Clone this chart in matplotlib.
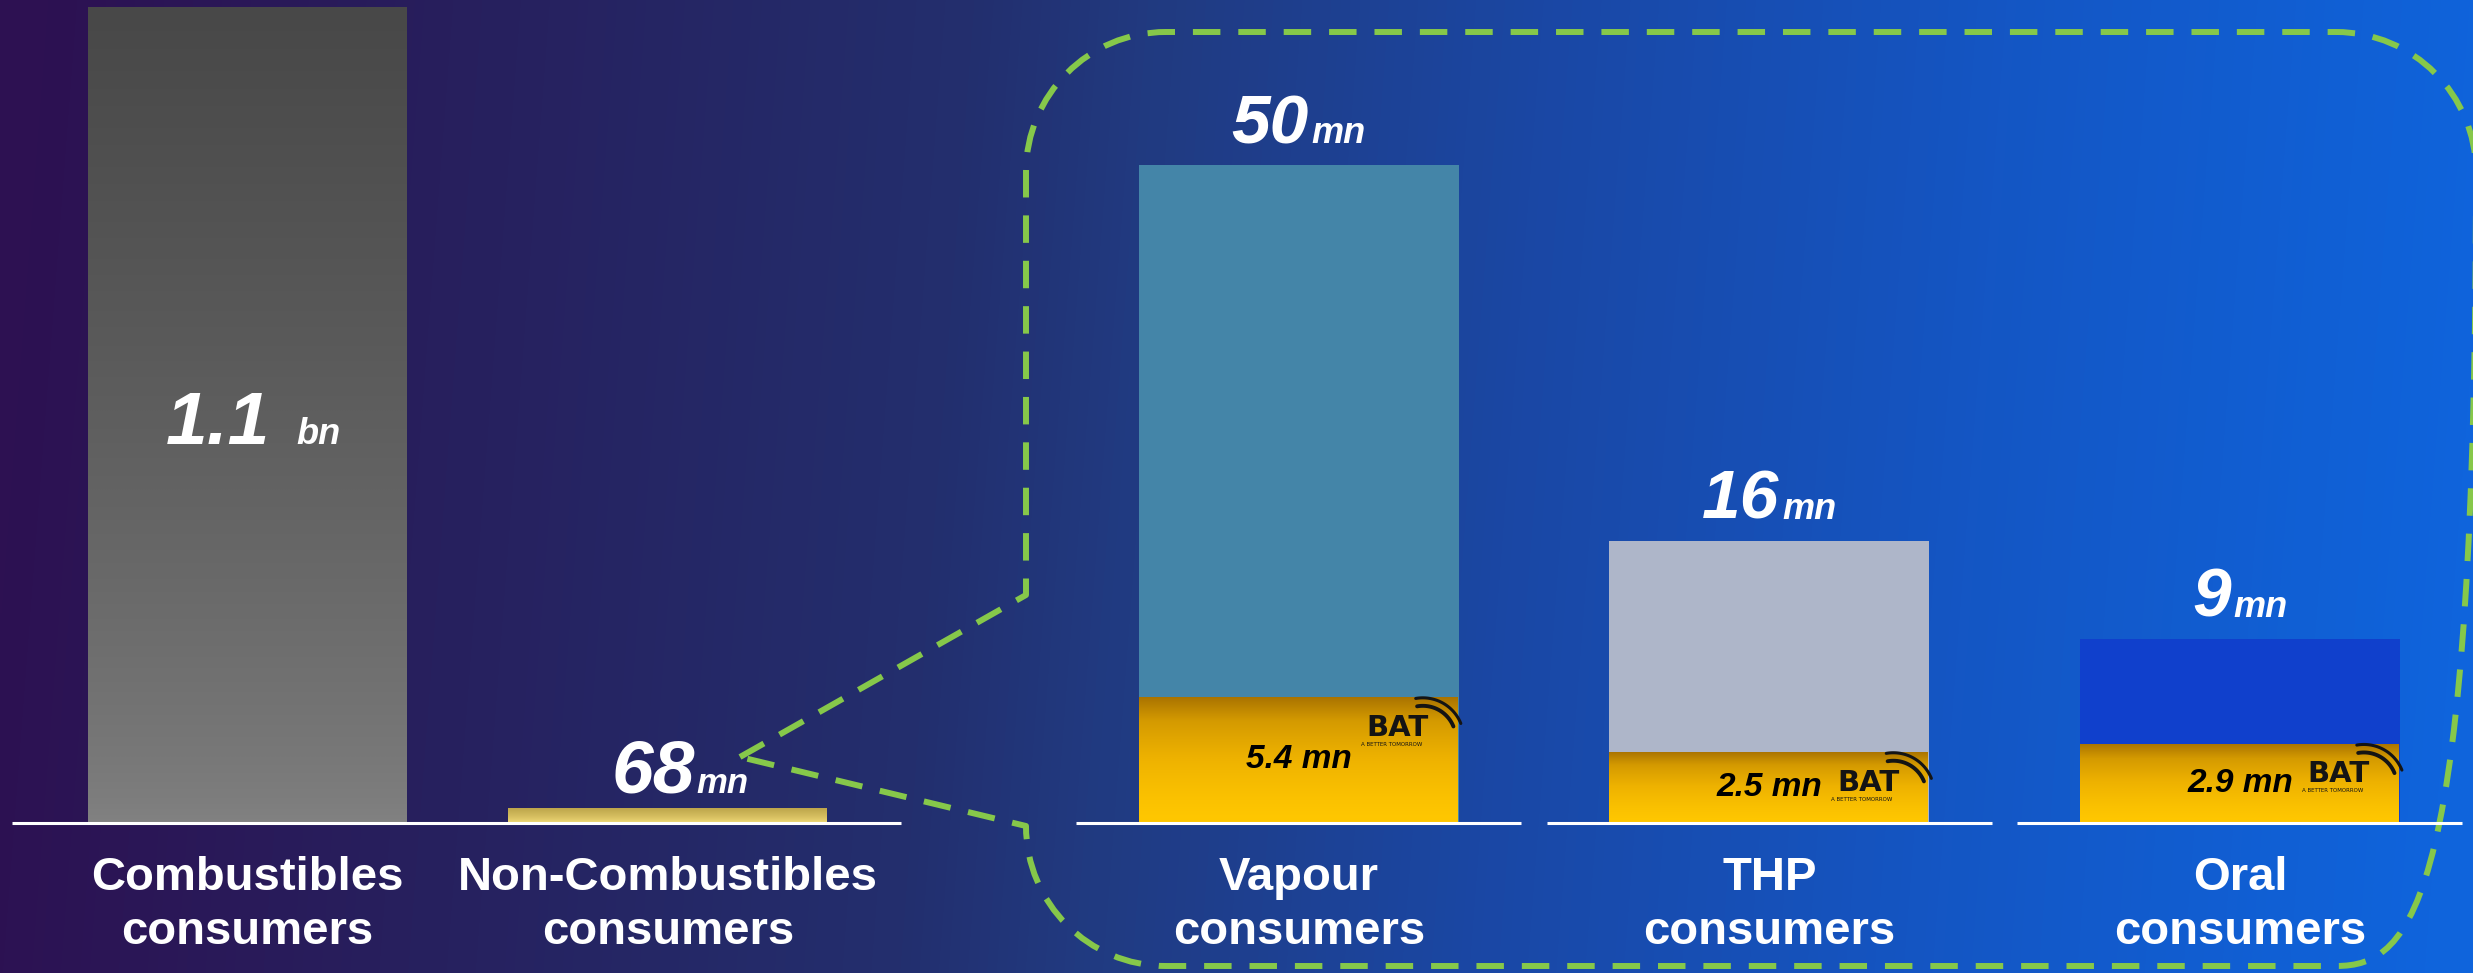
import numpy as np
import matplotlib
matplotlib.use("Agg")
import matplotlib.pyplot as plt
from matplotlib.colors import LinearSegmentedColormap
from matplotlib.path import Path
from matplotlib.patches import PathPatch
from matplotlib.lines import Line2D
from matplotlib.transforms import IdentityTransform

plt.rcParams["font.family"] = ["Liberation Sans", "DejaVu Sans"]

# ---- consumers, in millions ----
overview_labels = ["Combustibles\nconsumers", "Non-Combustibles\nconsumers"]
overview_values = [1100, 68]

segment_labels = ["Vapour\nconsumers", "THP\nconsumers", "Oral\nconsumers"]
segment_values = [50, 16, 9]
bat_values = [5.4, 2.5, 2.9]

segment_colors = ["#4485a8", "#aeb6c9", "#1040cc"]

W, H, DPI = 2473, 973, 100
BASE = 823  # baseline row, pixels from the top edge
fig = plt.figure(figsize=(W / DPI, H / DPI), dpi=DPI)


def axes_px(left, top, right, bottom, **kw):
    return fig.add_axes([left / W, 1 - bottom / H, (right - left) / W, (bottom - top) / H], **kw)


def fmt_value(v):
    return (f"{v / 1000:g}", "bn") if v >= 1000 else (f"{v:g}", "mn")


# ---- background ----
bg = axes_px(0, 0, W, H, zorder=0)
bg_cmap = LinearSegmentedColormap.from_list("bg", [
    (0.00, "#2d1152"), (0.18, "#27205e"), (0.38, "#232f6e"), (0.45, "#213a80"),
    (0.62, "#1a48a6"), (0.80, "#1456c4"), (1.00, "#0f64dc")])
gx, gy = np.meshgrid(np.linspace(0, 1, 800), np.linspace(0, 1, 300))
bg.imshow(np.clip(gx + 0.03 * (gy - 0.5), 0, 1), cmap=bg_cmap, vmin=0, vmax=1,
          extent=(0, W, H, 0), aspect="auto", interpolation="bilinear")

# dashed callout frame around the breakdown, pointing at the non-combustibles bar
k, r = 0.5523, 140
xl, xr, yt, yb = 1026, 2476, 32, 966
tip = (740, 757)
verts = [tip, (xl, 595), (xl, yt + r),
         (xl, yt + r - k * r), (xl + r - k * r, yt), (xl + r, yt),
         (xr - r, yt),
         (xr - r + k * r, yt), (xr, yt + r - k * r), (xr, yt + r),
         (xr, yb - r),
         (xr, yb - r + k * r), (xr - r + k * r, yb), (xr - r, yb),
         (xl + r, yb),
         (xl + r - k * r, yb), (xl, yb - r + k * r), (xl, yb - r),
         tip]
codes = ([Path.MOVETO, Path.LINETO, Path.LINETO] + [Path.CURVE4] * 3 + [Path.LINETO]
         + [Path.CURVE4] * 3 + [Path.LINETO] + [Path.CURVE4] * 3 + [Path.LINETO]
         + [Path.CURVE4] * 3 + [Path.LINETO])
bg.add_patch(PathPatch(Path(verts, codes), fill=False, edgecolor="#86c84a", lw=4.3,
                       linestyle=(0, (4.6, 3.0)), capstyle="butt", joinstyle="round"))
bg.set_xlim(0, W)
bg.set_ylim(H, 0)
bg.axis("off")


def power_scale(ax, exponent, gain, height_px):
    fwd = lambda v: np.sign(v) * np.abs(v) ** exponent
    inv = lambda h: np.sign(h) * np.abs(h) ** (1 / exponent)
    ax.set_yscale("function", functions=(fwd, inv))
    ax.set_ylim(0, (height_px / gain) ** (1 / exponent))


def gradient_bar(ax, x, value, width, cmap, z):
    bar = ax.bar(x, value, width, color="none", linewidth=0, zorder=z)[0]
    img = ax.imshow(np.linspace(0, 1, 256).reshape(-1, 1), cmap=cmap, aspect="auto",
                    extent=(x - width / 2, x + width / 2, 0, value), zorder=z,
                    interpolation="bilinear")
    img.set_clip_path(bar)


renderer = fig.canvas.get_renderer()


def text_px_width(s, **kw):
    t = fig.text(0, 0, s, **kw)
    w = t.get_window_extent(renderer).width
    t.remove()
    return w


def value_label(ax, xy, xycoords, number, unit, dy, num_size, unit_size, sep, dx=0):
    nk = dict(fontsize=num_size, fontweight="bold", fontstyle="italic", color="white")
    uk = dict(fontsize=unit_size, fontweight="bold", fontstyle="italic", color="white")
    w1 = text_px_width(number, **nk)
    w2 = text_px_width(unit, **uk)
    start = dx - (w1 + sep + w2) / 2
    ax.annotate(number, xy=xy, xycoords=xycoords, xytext=(start, dy),
                textcoords="offset pixels", ha="left", va="baseline", annotation_clip=False, **nk)
    ax.annotate(unit, xy=xy, xycoords=xycoords, xytext=(start + w1 + sep, dy),
                textcoords="offset pixels", ha="left", va="baseline", annotation_clip=False, **uk)


def category_label(ax, x, text):
    ax.annotate(text, xy=(x, 0), xytext=(0, -33), textcoords="offset pixels",
                ha="center", va="top", fontsize=34, fontweight="bold", color="white",
                linespacing=1.3, annotation_clip=False)


grey_cmap = LinearSegmentedColormap.from_list("grey", ["#484848", "#828282"])
gold_cmap = LinearSegmentedColormap.from_list("gold", ["#bca44a", "#f3dd7a"])
amber_cmap = LinearSegmentedColormap.from_list("amber", [
    (0.0, "#a87200"), (0.25, "#d49a00"), (0.6, "#eeb200"), (1.0, "#ffc700")])

# ---- overview panel ----
axL = axes_px(0, 5, 950, BASE, zorder=1)
xL = np.arange(len(overview_values))
wL = 0.761
for x, v, cm in zip(xL, overview_values, [grey_cmap, gold_cmap]):
    gradient_bar(axL, x, v, wL, cm, 2)
power_scale(axL, 1.435, 0.0353, BASE - 5)
axL.set_xlim(-0.589, 1.671)
axL.axis("off")
axL.hlines(0, -0.56, 1.555, color="white", lw=2.2, clip_on=False, zorder=3)

num, unit = fmt_value(overview_values[0])
value_label(axL, (xL[0], 0.5), ("data", "axes fraction"), num, unit, -30, 54, 26, 26, dx=6)
num, unit = fmt_value(overview_values[1])
value_label(axL, (xL[1], overview_values[1]), "data", num, unit, 15, 54, 25, 1, dx=12)
for x, lab in zip(xL, overview_labels):
    category_label(axL, x, lab)

# ---- breakdown panel ----
axR = axes_px(1050, 20, 2470, BASE, zorder=1)
xR = np.arange(len(segment_values))
wR = 0.680
axR.bar(xR, segment_values, wR, color=segment_colors, linewidth=0, zorder=1)
for x, b in zip(xR, bat_values):
    gradient_bar(axR, x, b, wR, amber_cmap, 2)
power_scale(axR, 0.742, 36.1, BASE - 20)
axR.set_xlim(-0.5288, 2.489)
axR.axis("off")
axR.hlines(np.zeros(len(xR)), xR - 0.473, xR + 0.473, color="white", lw=2.2,
           clip_on=False, zorder=3)

for x, v in zip(xR, segment_values):
    num, unit = fmt_value(v)
    value_label(axR, (x, v), "data", num, unit, 22, 50, 26, 3)
for x, lab in zip(xR, segment_labels):
    category_label(axR, x, lab)


def bat_logo(ax, x, value):
    px, py = ax.transData.transform((x, value))
    tr, tt = px + 130, py - 17
    ink = "#141414"
    fig.text(tr, tt, "BAT", transform=IdentityTransform(), ha="right", va="top",
             fontsize=21, fontweight="bold", family="DejaVu Sans", color=ink, zorder=5)
    fig.text(tr - 68, tt - 28, "A BETTER TOMORROW", transform=IdentityTransform(),
             ha="left", va="top", fontsize=4.0, family="DejaVu Sans", color=ink, zorder=5)
    for rad, lw in ((33, 2.8), (41, 2.2)):
        th = np.radians(np.linspace(22, 100, 40))
        fig.add_artist(Line2D(tr - 6 + rad * np.cos(th), tt - 25 + rad * np.sin(th),
                              transform=IdentityTransform(), color=ink, lw=lw,
                              solid_capstyle="round", zorder=5))


for x, b in zip(xR, bat_values):
    p0 = axR.transData.transform((x, 0))[1]
    p1 = axR.transData.transform((x, b))[1]
    axR.annotate(f"{b:g} mn", xy=(x, 0), xytext=(0, (p1 - p0) / 2), textcoords="offset pixels",
                 ha="center", va="center", fontsize=24, fontweight="bold", fontstyle="italic",
                 color="black", zorder=4)
    bat_logo(axR, x, b)

fig.savefig("out.png", dpi=DPI)
